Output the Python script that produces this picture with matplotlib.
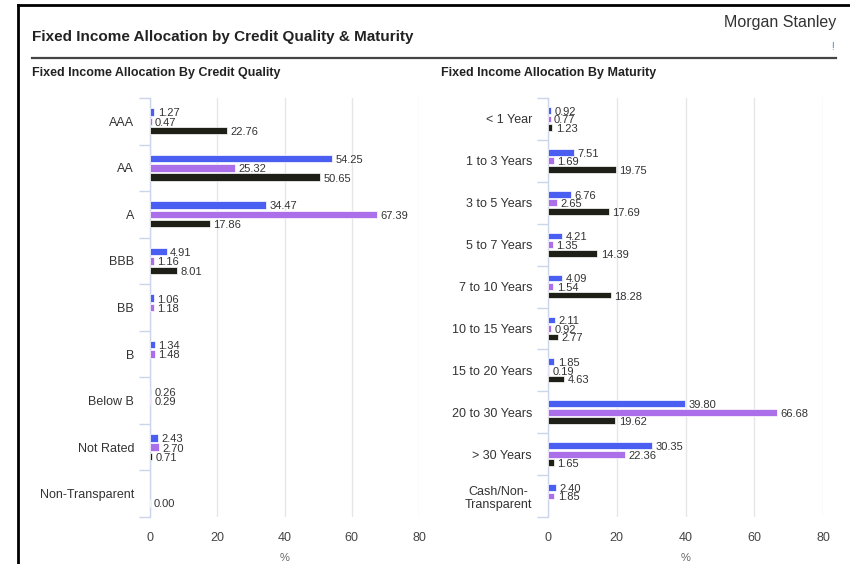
import numpy as np
import matplotlib
matplotlib.use("Agg")
import matplotlib.pyplot as plt
from matplotlib.lines import Line2D

plt.rcParams['font.family'] = ['Liberation Sans', 'DejaVu Sans']

# ---- data ----
credit_categories = ["AAA", "AA", "A", "BBB", "BB", "B", "Below B", "Not Rated", "Non-Transparent"]
credit_series_1 = [1.27, 54.25, 34.47, 4.91, 1.06, 1.34, 0.26, 2.43, np.nan]
credit_series_2 = [0.47, 25.32, 67.39, 1.16, 1.18, 1.48, 0.29, 2.70, np.nan]
credit_series_3 = [22.76, 50.65, 17.86, 8.01, np.nan, np.nan, np.nan, 0.71, 0.00]

maturity_categories = ["< 1 Year", "1 to 3 Years", "3 to 5 Years", "5 to 7 Years", "7 to 10 Years",
                       "10 to 15 Years", "15 to 20 Years", "20 to 30 Years", "> 30 Years",
                       "Cash/Non-\nTransparent"]
maturity_series_1 = [0.92, 7.51, 6.76, 4.21, 4.09, 2.11, 1.85, 39.80, 30.35, 2.40]
maturity_series_2 = [0.77, 1.69, 2.65, 1.35, 1.54, 0.92, 0.19, 66.68, 22.36, 1.85]
maturity_series_3 = [1.23, 19.75, 17.69, 14.39, 18.28, 2.77, 4.63, 19.62, 1.65, np.nan]

x_ticks = [0, 20, 40, 60, 80]

colors = ["#4a5ef2", "#ab6fe9", "#1e1f16"]
axis_col = "#ccd6eb"
grid_col = "#e6e6e6"
text_col = "#333333"

W, H = 850, 564
fig = plt.figure(figsize=(W / 100, H / 100), dpi=100)
fig.patch.set_facecolor("white")


def fx(px):
    return px / W


def fy(py):
    return 1 - py / H


def draw_panel(rect, cats, series, offset, bar_h):
    ax = fig.add_axes(rect)
    n = len(cats)
    y = np.arange(n)
    for k, vals in enumerate(series):
        vals = np.asarray(vals, dtype=float)
        pos = y + (k - 1) * offset
        mask = ~np.isnan(vals)
        ax.barh(pos[mask], vals[mask], height=bar_h, color=colors[k],
                edgecolor="white", linewidth=0.5, zorder=3)
        for p, v in zip(pos[mask], vals[mask]):
            ax.annotate(f"{v:.2f}", xy=(v, p), xytext=(2.5, -1), textcoords="offset points",
                        ha="left", va="center", fontsize=8, color=text_col, zorder=4)
    ax.set_xlim(0, 80)
    ax.set_ylim(n - 0.5, -0.5)
    ax.set_xticks(x_ticks)
    ax.set_xticklabels([str(t) for t in x_ticks])
    ax.tick_params(axis="x", length=0, pad=11, labelsize=9, labelcolor="#444444")
    ax.grid(axis="x", color=grid_col, linewidth=1, zorder=0)
    ax.set_axisbelow(True)
    ax.set_yticks(np.arange(n + 1) - 0.5)
    ax.set_yticklabels([])
    ax.tick_params(axis="y", which="major", length=8, color=axis_col, width=1)
    ax.set_yticks(y, minor=True)
    ax.set_yticklabels(cats, minor=True, fontsize=9, color=text_col, ha="right",
                       multialignment="center")
    ax.tick_params(axis="y", which="minor", length=0, pad=11.5)
    for s in ["top", "right", "bottom"]:
        ax.spines[s].set_visible(False)
    ax.spines["left"].set_color(axis_col)
    ax.spines["left"].set_linewidth(1)
    ax.set_xlabel("%", fontsize=8, color="#666666", labelpad=6)
    return ax


top_px, bot_px = 98, 517
draw_panel([fx(150), fy(bot_px), fx(419 - 150), (bot_px - top_px) / H],
           credit_categories, [credit_series_1, credit_series_2, credit_series_3],
           offset=0.2, bar_h=0.16)
draw_panel([fx(548), fy(bot_px), fx(823 - 548), (bot_px - top_px) / H],
           maturity_categories, [maturity_series_1, maturity_series_2, maturity_series_3],
           offset=0.205, bar_h=0.16)

# ---- titles / decorations ----
fig.text(fx(32), fy(37), "Fixed Income Allocation by Credit Quality & Maturity",
         fontsize=11, fontweight="bold", color="#222222", ha="left", va="center")
fig.text(fx(836), fy(22), "Morgan Stanley", fontsize=11.5, color="#333333",
         ha="right", va="center")
fig.text(fx(832), fy(47), "!", fontsize=7, color="#4a7fd6", ha="center", va="center")
fig.text(fx(32), fy(73), "Fixed Income Allocation By Credit Quality",
         fontsize=9, fontweight="bold", color="#222222", ha="left", va="center")
fig.text(fx(441), fy(73), "Fixed Income Allocation By Maturity",
         fontsize=9, fontweight="bold", color="#222222", ha="left", va="center")

fig.add_artist(Line2D([fx(32), fx(836)], [fy(58), fy(58)], color="#444444", linewidth=1.6))
fig.add_artist(Line2D([fx(18), fx(18)], [fy(5), 0], color="black", linewidth=2))
fig.add_artist(Line2D([fx(18), 1], [fy(5), fy(5)], color="black", linewidth=2))

fig.savefig("out.png", dpi=100, facecolor="white")
